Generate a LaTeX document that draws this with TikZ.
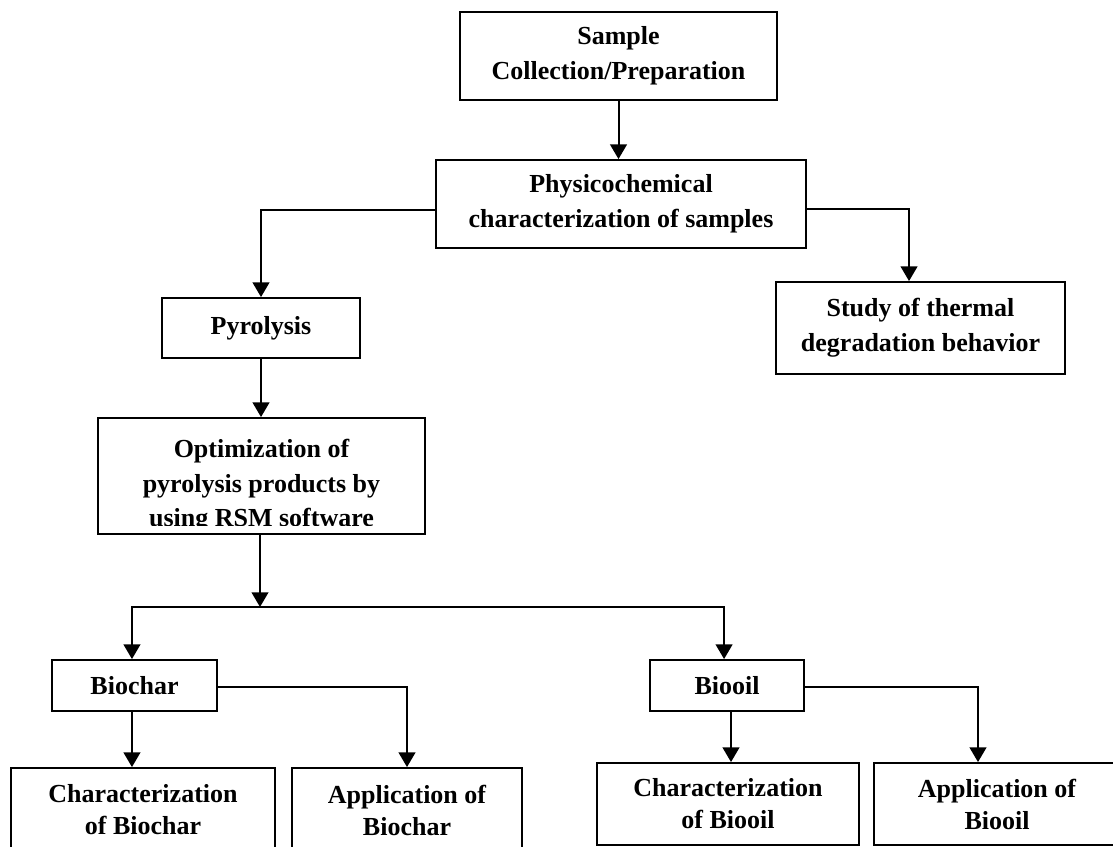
\documentclass[tikz,border=0pt]{standalone}
\usepackage{fontspec}
\setmainfont{Liberation Serif}
\usetikzlibrary{arrows.meta}
\begin{document}
\begin{tikzpicture}[x=0.75pt,y=-0.75pt,
  box/.style={draw, line width=1.4pt, rectangle, inner sep=0pt, align=center,
    font=\fontsize{19.5}{26}\selectfont\bfseries},
  lowbox/.style={box, font=\fontsize{19.5}{24}\selectfont\bfseries},
  txt/.style={inner sep=0pt, align=center, font=\fontsize{19.5}{26}\selectfont\bfseries},
  link/.style={line width=1.5pt, line join=miter},
  tip/.style={-{Triangle[width=12.5pt,length=11pt]}},
  arr/.style={link, tip},
]
\useasboundingbox (0,0) rectangle (1113,846);
\clip (0,0) rectangle (1113,846);

\node[box, minimum width=317*0.75pt, minimum height=88*0.75pt] (sample) at (618.5,56) {Sample\\Collection/Preparation};
\node[box, minimum width=370*0.75pt, minimum height=88*0.75pt] (physico) at (621,204) {Physicochemical\\characterization of samples};
\node[box, minimum width=198*0.75pt, minimum height=60*0.75pt] (pyro) at (261,328) {Pyrolysis};
\node[box, minimum width=289*0.75pt, minimum height=92*0.75pt] (thermal) at (920.5,328) {Study of thermal\\degradation behavior};
\node[box, minimum width=327*0.75pt, minimum height=116*0.75pt] (opt) at (261.5,476) {};
\begin{scope}
  \clip (98,418) rectangle (425,525.5);
  \node[txt] (optt) at (261.5,486) {Optimization of\\pyrolysis products by\\using RSM software};
\end{scope}
\node[box, minimum width=165*0.75pt, minimum height=51*0.75pt] (biochar) at (134.5,685.5) {Biochar};
\node[box, minimum width=154*0.75pt, minimum height=51*0.75pt] (biooil) at (727,685.5) {Biooil};
\node[lowbox, minimum width=264*0.75pt, minimum height=84*0.75pt] (charbc) at (143,810) {Characterization\\of Biochar};
\node[lowbox, minimum width=230*0.75pt, minimum height=84*0.75pt] (appbc) at (407,810) {Application of\\Biochar};
\node[lowbox, minimum width=262*0.75pt, minimum height=82*0.75pt] (charbo) at (728,804) {Characterization\\of Biooil};
\node[lowbox, minimum width=246*0.75pt, minimum height=82*0.75pt] (appbo) at (997,804) {Application of\\Biooil};

\coordinate (junc) at (260,607);

\draw[arr] (sample.south) -- (sample.south |- physico.north);
\draw[arr] ([yshift=-4.5pt]physico.west) -| (pyro.north);
\draw[arr] ([yshift=-3.75pt]physico.east) -| ([xshift=-8.6pt]thermal.north);
\draw[arr] (pyro.south) -- (pyro.south |- opt.north);
\draw[arr] (opt.south -| junc) -- (junc);
\draw[link, {Triangle[width=12.5pt,length=11pt]}-{Triangle[width=12.5pt,length=11pt]}]
  ([xshift=-1.9pt]biochar.north) |- (junc) -| ([xshift=-2.2pt]biooil.north);
\draw[arr] ([xshift=-1.9pt]biochar.south) -- ([xshift=-1.9pt]biochar.south |- charbc.north);
\draw[arr] ([yshift=-1.1pt]biochar.east) -| (appbc.north);
\draw[arr] ([xshift=3pt]biooil.south) -- ([xshift=3pt]biooil.south |- charbo.north);
\draw[arr] ([yshift=-1.1pt]biooil.east) -| ([xshift=-14.25pt]appbo.north);
\end{tikzpicture}
\end{document}
